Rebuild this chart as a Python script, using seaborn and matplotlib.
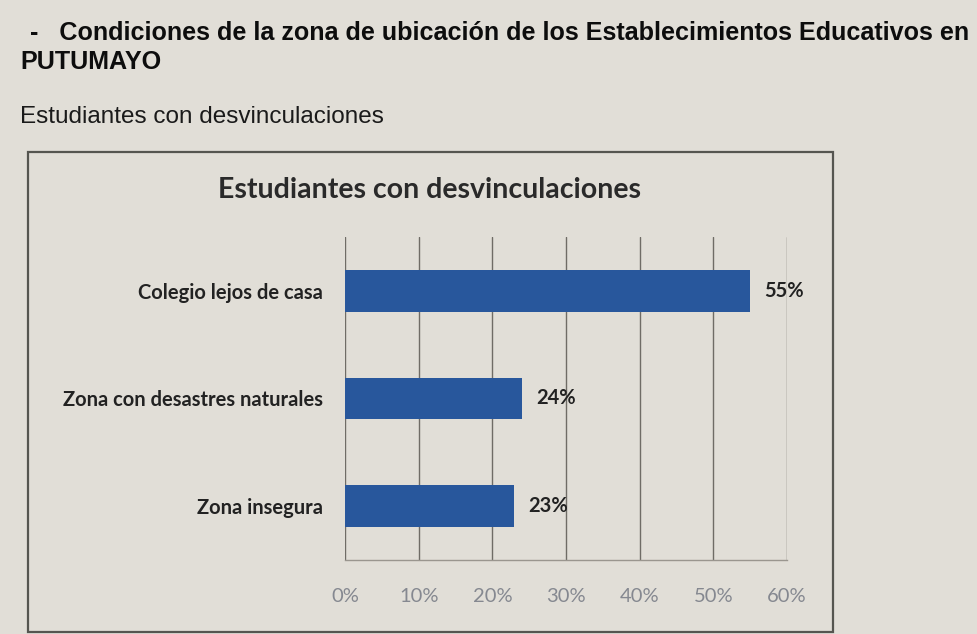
import matplotlib
matplotlib.use("Agg")
import matplotlib.pyplot as plt
import matplotlib.patches as mpatches
import seaborn as sns
import pandas as pd

categorias = ["Colegio lejos de casa", "Zona con desastres naturales", "Zona insegura"]
porcentajes = [0.55, 0.24, 0.23]
ticks_x = [0.0, 0.1, 0.2, 0.3, 0.4, 0.5, 0.6]
etiquetas_x = ["0%", "10%", "20%", "30%", "40%", "50%", "60%"]

encabezado = "-   Condiciones de la zona de ubicación de los Establecimientos Educativos en"
encabezado2 = "PUTUMAYO"
subtitulo = "Estudiantes con desvinculaciones"
titulo = "Estudiantes con desvinculaciones"

fondo = "#e1ded7"
azul = "#28579c"

sns.set_style("white")
plt.rcParams['font.family'] = ['Liberation Sans', 'DejaVu Sans']

df = pd.DataFrame({"cat": categorias, "val": porcentajes})

fig = plt.figure(figsize=(9.77, 6.34), dpi=100, facecolor=fondo)

# marco del grafico
marco = mpatches.Rectangle((28 / 977, 1 - 632 / 634), (833 - 28) / 977, (632 - 152) / 634,
                           transform=fig.transFigure, fill=False, edgecolor="#555550", linewidth=1.6)
fig.patches.append(marco)

ax = fig.add_axes([345 / 977, 1 - 560 / 634, (787 - 345) / 977, (560 - 237) / 634])
ax.set_facecolor(fondo)

sns.barplot(data=df, x="val", y="cat", orient="h", color=azul, width=0.39,
            saturation=1, linewidth=0, ax=ax, zorder=3)

ax.set_xlim(0, 0.6)
ax.set_ylim(2.5, -0.5)
ax.set_xticks(ticks_x)
ax.set_xticklabels(etiquetas_x, family=['Lato', 'DejaVu Sans'], fontsize=14.5, color="#858890")
ax.set_yticks(range(len(categorias)))
ax.set_yticklabels(categorias, family=['Lato', 'DejaVu Sans'], fontsize=14.5,
                   fontweight='bold', color="#222222")
ax.tick_params(axis='x', length=0, pad=20)
ax.tick_params(axis='y', length=0, pad=16)
ax.set_xlabel('')
ax.set_ylabel('')

ax.xaxis.grid(True, color="#6f6c66", linewidth=1.0, zorder=0)
ax.yaxis.grid(False)
for lado in ["top", "right", "left"]:
    ax.spines[lado].set_visible(False)
ax.spines["bottom"].set_color("#9a968f")
ax.spines["bottom"].set_linewidth(1.0)

for i, v in enumerate(porcentajes):
    ax.text(v + 0.019, i, '{:.0f}%'.format(v * 100), va='center', ha='left',
            fontsize=14.5, fontweight='bold', color="#222222", family=['Lato', 'DejaVu Sans'])

fig.text(430 / 977, 1 - 190 / 634, titulo, ha='center', va='center', fontsize=20.5,
         fontweight='bold', color="#2a2a2a", family=['Lato', 'DejaVu Sans'])

fig.text(30 / 977, 1 - 33 / 634, encabezado, ha='left', va='center', fontsize=18.1,
         fontweight='bold', color="#0d0d0d")
fig.text(20 / 977, 1 - 62 / 634, encabezado2, ha='left', va='center', fontsize=18.1,
         fontweight='bold', color="#0d0d0d")
fig.text(20 / 977, 1 - 117 / 634, subtitulo, ha='left', va='center', fontsize=17.5,
         color="#1a1a1a")

plt.savefig("out.png", dpi=100, facecolor=fondo)
